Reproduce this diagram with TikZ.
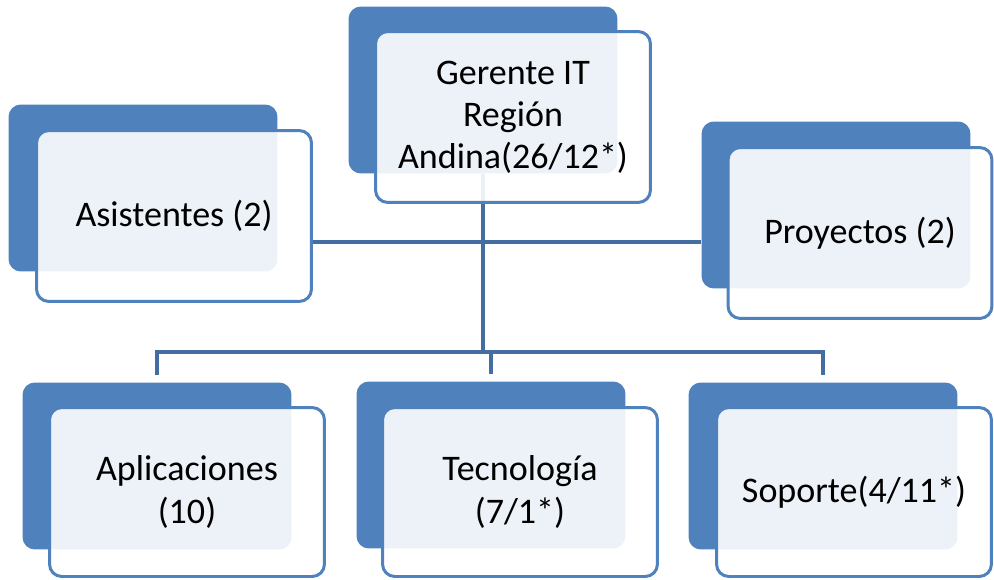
\documentclass[tikz,border=0pt]{standalone}
\usepackage{fontspec}
\setmainfont{Carlito}
\usepackage{tikz}
\usetikzlibrary{
    positioning,
    calc
}
\definecolor{BoxBlue}{RGB}{79,129,189}
\definecolor{LinkBlue}{RGB}{68,110,162}

\begin{document}
\begin{tikzpicture}[
    x=0.02cm, y=-0.02cm,
    backbox/.style={rectangle, rounded corners=7pt, fill=BoxBlue, draw=none, minimum width=5.38cm, minimum height=3.34cm},
    frontbox/.style={rectangle, rounded corners=7pt, draw=BoxBlue, line width=1.7pt, fill=white, fill opacity=0.9, text opacity=1, minimum width=5.5cm, minimum height=3.42cm, align=center, font=\fontsize{20.5}{24}\selectfont},
    link/.style={draw=LinkBlue, line width=2.2pt}
]
\useasboundingbox (0,0) rectangle (994,579);

% back boxes
\node[backbox] (gerente-b) at (483,90) {};
\node[backbox] (asis-b) at (143,188) {};
\node[backbox] (proy-b) at (836,205) {};
\node[backbox] (apl-b) at (157,466) {};
\node[backbox] (tec-b) at (491,465) {};
\node[backbox] (sop-b) at (823,466) {};

% connectors
\coordinate (hub) at (0,242);
\coordinate (bus) at (0,352);
\draw[link] (gerente-b.south) -- (gerente-b.south |- bus);
\draw[link, shorten <=0.14cm, shorten >=0.14cm] (apl-b.north) -- (apl-b.north |- bus) -- (sop-b.north |- bus) -- (sop-b.north);
\draw[link, shorten <=0.14cm] (tec-b.north) -- (tec-b.north |- bus);

% front boxes
\node[frontbox] (gerente) at ([shift={(30,27)}]gerente-b.center) {Gerente IT\\Región\\Andina(26/12*)};
\node[frontbox] (asis) at ([shift={(31,28)}]asis-b.center) {Asistentes (2)};
\node[frontbox, minimum width=5.28cm] (proy) at ([shift={(24,28)}]proy-b.center) {Proyectos (2)};
\node[frontbox, minimum height=3.38cm] (apl) at ([shift={(30,26)}]apl-b.center) {Aplicaciones\\(10)};
\node[frontbox, minimum height=3.38cm] (tec) at ([shift={(29,27)}]tec-b.center) {Tecnología\\(7/1*)};
\node[frontbox, minimum height=3.38cm] (sop) at ([shift={(31,26)}]sop-b.center) {Soporte(4/11*)};

\draw[link] (asis.east |- hub) -- (proy-b.west |- hub);
\end{tikzpicture}
\end{document}
